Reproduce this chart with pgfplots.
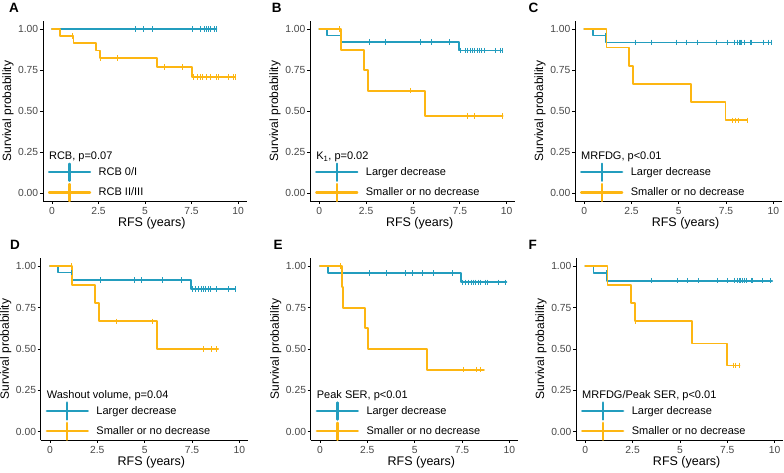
\documentclass[border=0pt]{standalone}
\usepackage{fontspec}
\setmainfont{Liberation Sans}
\usepackage{pgfplots}
\pgfplotsset{compat=1.18}
\definecolor{kmblue}{RGB}{35,157,190}
\definecolor{kmorange}{RGB}{253,182,18}
\pgfplotsset{
  km/.style={
    scale only axis,
    xmin=-0.49, xmax=10.46, ymin=-0.05, ymax=1.05,
    axis x line*=bottom, axis y line*=left,
    axis line style={-, line width=0.8pt, black},
    xtick={0,2.5,5,7.5,10}, xticklabels={0,2.5,5,7.5,10},
    ytick={0,0.25,0.5,0.75,1}, yticklabels={0.00,0.25,0.50,0.75,1.00},
    tick align=outside, major tick length=3pt,
    tick style={line width=0.8pt, black},
    xticklabel style={font=\fontsize{10.3}{12}\selectfont, text=black!72},
    yticklabel style={font=\fontsize{10.3}{12}\selectfont, text=black!72, inner sep=1.5pt},
    xlabel={RFS (years)}, ylabel={Survival probability},
    xlabel style={font=\fontsize{12.5}{14}\selectfont, xshift=7pt, yshift=4pt},
    every axis y label/.style={at={(axis description cs:0,0.5)}, xshift=-35pt, rotate=90, anchor=center, font=\fontsize{12}{14}\selectfont},
    clip=false,
    legend style={at={(axis description cs:0,0)}, anchor=south west, xshift=5pt, yshift=-1pt,
      draw=none, fill=none, inner sep=0pt, outer sep=0pt, row sep=1pt, column sep=7.5pt,
      font=\fontsize{11}{13}\selectfont, nodes={inner sep=0pt, anchor=west}},
    legend cell align=left,
    legend image code/.code={
      \draw[line width=2.3pt] (0pt,0pt) -- (41pt,0pt);
      \draw[line width=2.3pt] (20.5pt,-8.5pt) -- (20.5pt,8.5pt);
    },
  },
  kmline/.style={const plot, line width=1.75pt, line join=round, line cap=round, mark=none},
  kmcens/.style={only marks, mark=|, mark size=2.8pt, mark options={line width=1pt}, forget plot},
}
\newcommand{\legtitle}[1]{\node[anchor=west, inner sep=0pt, xshift=6pt, yshift=44.5pt, font=\fontsize{11}{13}\selectfont] at (axis description cs:0,0) {#1};}
\begin{document}
\begin{tikzpicture}
\useasboundingbox (0,0) rectangle (784pt,473pt);
% ---------------- A
\begin{axis}[km, at={(42.9pt,271.8pt)}, anchor=south west, width=203.7pt, height=180.1pt]
\addplot[kmline, kmblue] coordinates {(0,1) (8.84,1)};
\addplot[kmline, kmorange] coordinates {(0,1) (0.43,0.958) (1.15,0.915) (2.37,0.871) (2.56,0.825) (5.66,0.770) (7.51,0.710) (9.85,0.710)};
\addplot[kmcens, kmblue] coordinates {(4.50,1) (4.91,1) (5.39,1) (7.56,1) (7.97,1) (8.19,1) (8.30,1) (8.40,1) (8.53,1) (8.76,1) (8.84,1)};
\addplot[kmcens, kmorange] coordinates {(1.10,0.958) (2.63,0.825) (3.53,0.825) (6.02,0.770) (7.03,0.770) (7.60,0.710) (7.83,0.710) (7.96,0.710) (8.10,0.710) (8.32,0.710) (8.53,0.710) (8.85,0.710) (8.94,0.710) (9.48,0.710) (9.75,0.710) (9.85,0.710)};
\legend{RCB 0/I, RCB II/III}
\legtitle{RCB, p=0.07}
\end{axis}
% ---------------- B
\begin{axis}[km, at={(310.1pt,271.8pt)}, anchor=south west, width=205.2pt, height=180.1pt]
\addplot[kmline, kmblue] coordinates {(0,1) (0.41,0.962) (1.15,0.923) (7.44,0.870) (9.75,0.870)};
\addplot[kmline, kmorange] coordinates {(0,1) (1.17,0.875) (2.37,0.75) (2.58,0.625) (5.66,0.469) (9.79,0.469)};
\addplot[kmcens, kmblue] coordinates {(2.67,0.923) (3.52,0.923) (5.39,0.923) (5.98,0.923) (6.96,0.923) (7.52,0.870) (7.79,0.870) (7.93,0.870) (8.06,0.870) (8.19,0.870) (8.29,0.870) (8.42,0.870) (8.54,0.870) (8.68,0.870) (8.83,0.870) (9.39,0.870) (9.66,0.870) (9.75,0.870)};
\addplot[kmcens, kmorange] coordinates {(1.10,1) (4.89,0.625) (7.92,0.469) (8.29,0.469) (9.79,0.469)};
\legend{Larger decrease, Smaller or no decrease}
\legtitle{K\textsubscript{1}, p=0.02}
\end{axis}
% ---------------- C
\begin{axis}[km, at={(575.0pt,271.8pt)}, anchor=south west, width=207pt, height=180.1pt]
\addplot[kmline, kmblue] coordinates {(0,1) (0.45,0.962) (1.15,0.920) (9.89,0.920)};
\addplot[kmline, kmorange] coordinates {(0,1) (1.17,0.889) (2.37,0.778) (2.58,0.667) (5.65,0.556) (7.47,0.444) (8.62,0.444)};
\addplot[kmcens, kmblue] coordinates {(1.10,0.962) (2.70,0.920) (3.54,0.920) (4.90,0.920) (5.40,0.920) (5.98,0.920) (6.98,0.920) (7.57,0.920) (7.96,0.920) (8.10,0.920) (8.19,0.920) (8.25,0.920) (8.34,0.920) (8.49,0.920) (8.80,0.920) (8.87,0.920) (9.46,0.920) (9.76,0.920) (9.89,0.920)};
\addplot[kmcens, kmorange] coordinates {(7.83,0.444) (7.99,0.444) (8.17,0.444) (8.62,0.444)};
\legend{Larger decrease, Smaller or no decrease}
\legtitle{MRFDG, p<0.01}
\end{axis}
% ---------------- D
\begin{axis}[km, at={(40.7pt,33pt)}, anchor=south west, width=207.3pt, height=182pt]
\addplot[kmline, kmblue] coordinates {(0,1) (0.41,0.962) (1.16,0.917) (7.45,0.863) (9.79,0.863)};
\addplot[kmline, kmorange] coordinates {(0,1) (1.16,0.889) (2.36,0.778) (2.60,0.667) (5.65,0.50) (8.89,0.50)};
\addplot[kmcens, kmblue] coordinates {(1.12,0.962) (2.66,0.917) (4.47,0.917) (4.86,0.917) (5.97,0.917) (6.97,0.917) (7.54,0.863) (7.71,0.863) (7.86,0.863) (7.99,0.863) (8.12,0.863) (8.24,0.863) (8.35,0.863) (8.47,0.863) (8.82,0.863) (9.44,0.863) (9.79,0.863)};
\addplot[kmcens, kmorange] coordinates {(1.12,1) (3.49,0.667) (5.39,0.667) (8.10,0.50) (8.54,0.50) (8.80,0.50)};
\legend{Larger decrease, Smaller or no decrease}
\legtitle{Washout volume, p=0.04}
\end{axis}
% ---------------- E
\begin{axis}[km, at={(310.7pt,33pt)}, anchor=south west, width=207.3pt, height=182pt]
\addplot[kmline, kmblue] coordinates {(0,1) (0.42,0.960) (7.45,0.903) (9.85,0.903)};
\addplot[kmline, kmorange] coordinates {(0,1) (1.15,0.875) (1.20,0.75) (2.38,0.625) (2.55,0.50) (5.64,0.375) (8.66,0.375)};
\addplot[kmcens, kmblue] coordinates {(2.64,0.960) (3.52,0.960) (4.53,0.960) (4.90,0.960) (5.40,0.960) (5.99,0.960) (7.01,0.960) (7.54,0.903) (7.71,0.903) (7.86,0.903) (7.99,0.903) (8.12,0.903) (8.21,0.903) (8.35,0.903) (8.47,0.903) (8.73,0.903) (8.86,0.903) (9.44,0.903) (9.79,0.903)};
\addplot[kmcens, kmorange] coordinates {(1.10,1) (7.57,0.375) (8.28,0.375) (8.49,0.375)};
\legend{Larger decrease, Smaller or no decrease}
\legtitle{Peak SER, p<0.01}
\end{axis}
% ---------------- F
\begin{axis}[km, at={(576.0pt,33pt)}, anchor=south west, width=207.3pt, height=182pt]
\addplot[kmline, kmblue] coordinates {(0,1) (0.44,0.958) (1.16,0.913) (9.87,0.913)};
\addplot[kmline, kmorange] coordinates {(0,1) (1.17,0.889) (2.40,0.778) (2.61,0.667) (5.65,0.533) (7.47,0.40) (8.15,0.40)};
\addplot[kmcens, kmblue] coordinates {(1.13,0.958) (3.52,0.913) (4.89,0.913) (5.39,0.913) (6.00,0.913) (6.97,0.913) (7.53,0.913) (7.89,0.913) (8.03,0.913) (8.12,0.913) (8.19,0.913) (8.28,0.913) (8.42,0.913) (8.50,0.913) (8.76,0.913) (8.85,0.913) (9.38,0.913) (9.79,0.913)};
\addplot[kmcens, kmorange] coordinates {(2.64,0.667) (7.81,0.40) (7.96,0.40) (8.13,0.40)};
\legend{Larger decrease, Smaller or no decrease}
\legtitle{MRFDG/Peak SER, p<0.01}
\end{axis}
% panel letters
\begin{scope}[every node/.style={anchor=north west, inner sep=0pt, font=\bfseries\fontsize{13.5}{15}\selectfont}]
\node at (9pt,470pt) {A};
\node at (271.7pt,470pt) {B};
\node at (528.3pt,470pt) {C};
\node at (10pt,233pt) {D};
\node at (273.3pt,233pt) {E};
\node at (528.3pt,233pt) {F};
\end{scope}
\end{tikzpicture}
\end{document}
